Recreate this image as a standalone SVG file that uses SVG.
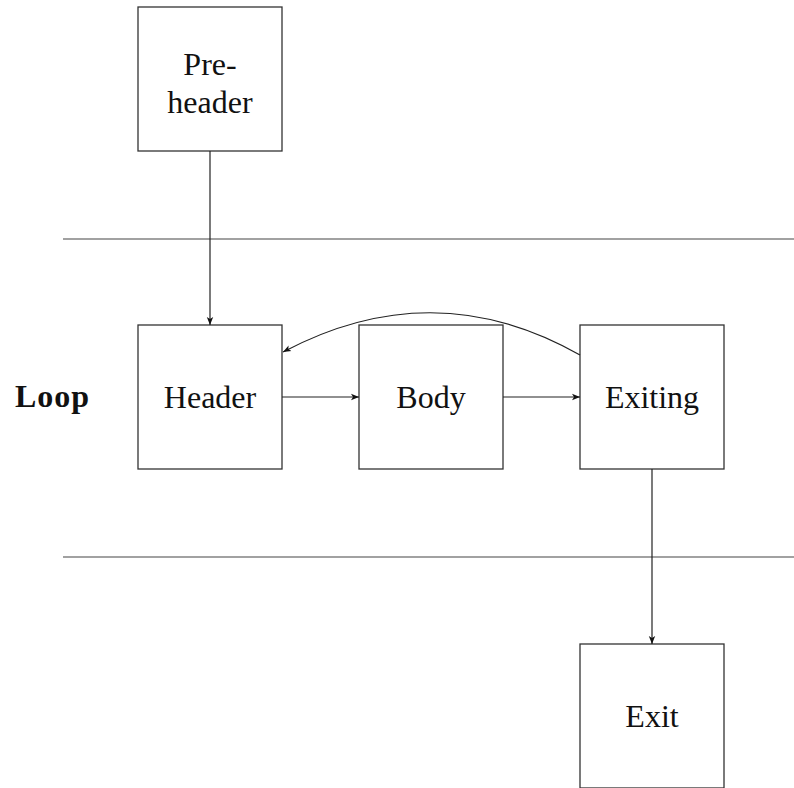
<svg xmlns="http://www.w3.org/2000/svg" width="794" height="788" viewBox="0 0 794 788">
<style>
.box{fill:#fff;stroke:#333;stroke-width:1.3}
.t{font-family:"Liberation Serif","DejaVu Serif",serif;font-size:32px;fill:#111;text-anchor:middle}
.e{fill:none;stroke:#222;stroke-width:1.2}
.sep{stroke:#444;stroke-width:1.2}
</style>
<defs>
<marker id="ah" viewBox="0 0 10 10" refX="10" refY="5" markerWidth="8" markerHeight="8" markerUnits="userSpaceOnUse" orient="auto">
<path d="M0,1 L10,5 L0,9 L2.5,5 Z" fill="#111"/>
</marker>
</defs>
<line class="sep" x1="63" y1="239" x2="794" y2="239"/>
<line class="sep" x1="63" y1="557" x2="794" y2="557"/>
<text x="15" y="407" style="font-family:'Liberation Serif','DejaVu Serif',serif;font-size:32px;font-weight:bold;fill:#111;letter-spacing:1px">Loop</text>
<g id="preheader"><rect class="box" x="138" y="7" width="144" height="144"/><text class="t" x="210" y="75">Pre-</text><text class="t" x="210" y="113">header</text></g>
<g id="header"><rect class="box" x="138" y="325" width="144" height="144"/><text class="t" x="210" y="408">Header</text></g>
<g id="body"><rect class="box" x="359" y="325" width="144" height="144"/><text class="t" x="431" y="408">Body</text></g>
<g id="exiting"><rect class="box" x="580" y="325" width="144" height="144"/><text class="t" x="652" y="408">Exiting</text></g>
<g id="exit"><rect class="box" x="580" y="644" width="144" height="144"/><text class="t" x="652" y="727">Exit</text></g>
<g id="connectors">
<line class="e" x1="210" y1="151" x2="210" y2="325" marker-end="url(#ah)"/>
<line class="e" x1="282" y1="397" x2="359" y2="397" marker-end="url(#ah)"/>
<line class="e" x1="503" y1="397" x2="580" y2="397" marker-end="url(#ah)"/>
<line class="e" x1="652" y1="469" x2="652" y2="644" marker-end="url(#ah)"/>
<path class="e" d="M580,355 Q434,272 283,352" marker-end="url(#ah)"/>
</g>
</svg>
